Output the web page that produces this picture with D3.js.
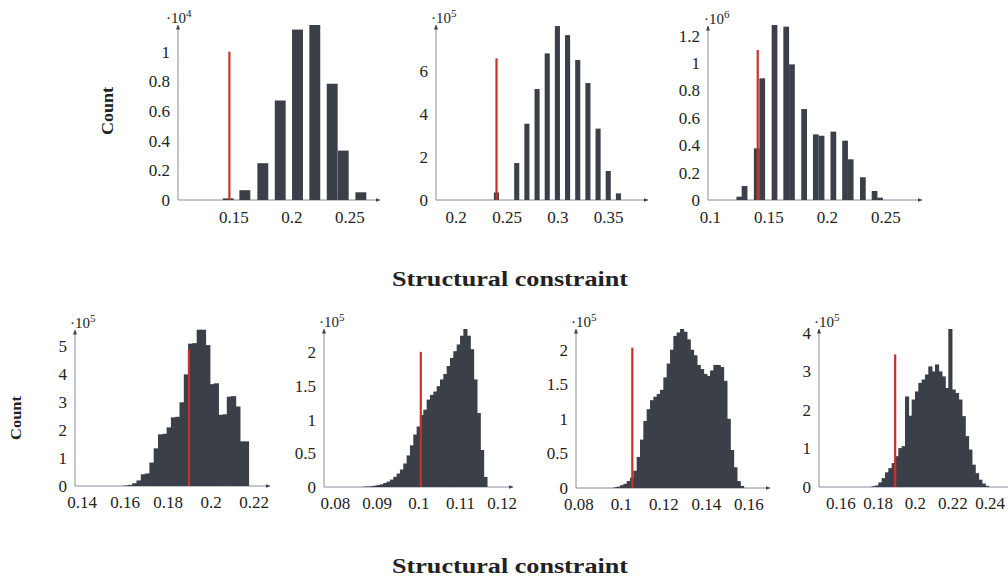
<!DOCTYPE html>
<html>
<head>
<meta charset="utf-8">
<script src="https://cdn.jsdelivr.net/npm/d3@7"></script>
<style>
  html, body { margin: 0; padding: 0; background: #fff; }
  svg text { font-family: "Liberation Serif", "DejaVu Serif", serif; fill: #222; }
</style>
</head>
<body>
<svg id="chart" width="1008" height="577"></svg>
<script>
// ---------- data: top row (counts in units of 10^exp) ----------
const aBinLeft = [0.1409, 0.1552, 0.1707, 0.1857, 0.2006, 0.2155, 0.2305, 0.2400, 0.2552];
const aBinWidth = 0.0094;
const aCounts = [0.011, 0.066, 0.248, 0.671, 1.149, 1.180, 0.784, 0.333, 0.052];
const aRefValue = 0.1466, aRefHeight = 1.0;
const aXTicks = [0.15, 0.2, 0.25];
const aYTicks = [0, 0.2, 0.4, 0.6, 0.8, 1];
const aExp = 4;

const bBinLeft = [0.2375, 0.2575, 0.2675, 0.2775, 0.2875, 0.2975, 0.3075, 0.3175, 0.3275, 0.3375, 0.3475, 0.3575];
const bBinWidth = 0.005;
const bCounts = [0.35, 1.72, 3.55, 5.16, 6.82, 8.09, 7.67, 6.51, 5.44, 3.32, 1.35, 0.31];
const bRefValue = 0.2401, bRefHeight = 6.59;
const bXTicks = [0.2, 0.25, 0.3, 0.35];
const bYTicks = [0, 2, 4, 6];
const bExp = 5;

const cBinLeft = [0.1226, 0.1271, 0.1375, 0.1422, 0.1527, 0.1627, 0.1676, 0.1780, 0.1880, 0.1929, 0.2030, 0.2130, 0.2178, 0.2282, 0.2382, 0.2429];
const cBinWidth = 0.0049;
const cCounts = [0.024, 0.102, 0.377, 0.888, 1.277, 1.265, 0.990, 0.664, 0.479, 0.469, 0.499, 0.433, 0.297, 0.166, 0.066, 0.017];
const cRefValue = 0.1408, cRefHeight = 1.095;
const cXTicks = [0.1, 0.15, 0.2, 0.25];
const cYTicks = [0, 0.2, 0.4, 0.6, 0.8, 1, 1.2];
const cExp = 6;

// ---------- data: bottom row (regular bins) ----------
const dBinStart = 0.1595, dBinWidth = 0.002;
const dCounts = [0.02, 0.04, 0.1, 0.2, 0.42, 0.45, 0.84, 1.35, 1.85, 1.87, 2.1, 2.46, 2.48, 3.0, 4.0,
                 5.1, 5.12, 5.6, 5.6, 5.05, 3.65, 3.68, 2.55, 2.57, 3.2, 3.22, 2.85, 1.6, 1.6];
const dRefValue = 0.1899, dRefHeight = 4.9;
const dXTicks = [0.14, 0.16, 0.18, 0.2, 0.22];
const dYTicks = [0, 1, 2, 3, 4, 5];
const dExp = 5;

const eBinStart = 0.0868, eBinWidth = 0.0008;
const eCounts = [0.005, 0.008, 0.012, 0.02, 0.03, 0.04, 0.06, 0.08, 0.11, 0.15, 0.2, 0.26, 0.35, 0.47, 0.62,
                 0.78, 0.9, 1.07, 1.15, 1.3, 1.37, 1.42, 1.5, 1.6, 1.68, 1.8, 1.92, 2.02, 2.12, 2.25,
                 2.35, 2.25, 2.05, 1.6, 1.1, 0.55, 0.15];
const eRefValue = 0.1006, eRefHeight = 2.01;
const eXTicks = [0.08, 0.09, 0.1, 0.11, 0.12];
const eYTicks = [0, 0.5, 1, 1.5, 2];
const eExp = 5;

const fBinStart = 0.09647, fBinWidth = 0.001569;
const fCounts = [0.01, 0.02, 0.04, 0.06, 0.1, 0.15, 0.25, 0.45, 0.7, 0.97, 1.14, 1.27, 1.32, 1.36, 1.42,
                 1.6, 1.8, 2.0, 2.2, 2.25, 2.3, 2.26, 2.15, 2.0, 1.92, 1.78, 1.72, 1.65, 1.62, 1.7,
                 1.78, 1.78, 1.75, 1.55, 1.0, 0.55, 0.3, 0.1, 0.03];
const fRefValue = 0.1054, fRefHeight = 2.03;
const fXTicks = [0.08, 0.1, 0.12, 0.14, 0.16];
const fYTicks = [0, 0.5, 1, 1.5, 2];
const fExp = 5;

const gBinStart = 0.1768, gBinWidth = 0.001786;
const gCounts = [0.02, 0.04, 0.12, 0.23, 0.38, 0.49, 0.62, 0.8, 1.01, 1.06, 2.35, 1.85, 2.27, 2.48, 2.7,
                 2.79, 2.92, 3.13, 3.0, 3.18, 3.0, 2.87, 2.57, 4.1, 2.53, 2.44, 2.27, 1.84, 1.32, 0.97,
                 0.58, 0.36, 0.19, 0.09, 0.03];
const gRefValue = 0.1894, gRefHeight = 3.44;
const gXTicks = [0.16, 0.18, 0.2, 0.22, 0.24];
const gYTicks = [0, 1, 2, 3, 4];
const gExp = 5;

const xLabel = "Structural constraint";
const yLabel = "Count";

// ---------- assemble panels ----------
const topRow = [
  { bins: aBinLeft.map((x0, i) => ({ x0, x1: x0 + aBinWidth, c: aCounts[i] })), ref: [aRefValue, aRefHeight],
    xTicks: aXTicks, yTicks: aYTicks, exp: aExp, contiguous: false,
    box: { left: 178, right: 380, top: 25, bottom: 200 }, xDomain: [0.1023, 0.2764], yMax: 1.18, expDx: -12 },
  { bins: bBinLeft.map((x0, i) => ({ x0, x1: x0 + bBinWidth, c: bCounts[i] })), ref: [bRefValue, bRefHeight],
    xTicks: bXTicks, yTicks: bYTicks, exp: bExp, contiguous: false,
    box: { left: 436, right: 648, top: 25, bottom: 200 }, xDomain: [0.1806, 0.3891], yMax: 8.14, expDx: -5 },
  { bins: cBinLeft.map((x0, i) => ({ x0, x1: x0 + cBinWidth, c: cCounts[i] })), ref: [cRefValue, cRefHeight],
    xTicks: cXTicks, yTicks: cYTicks, exp: cExp, contiguous: false,
    box: { left: 708, right: 922, top: 26, bottom: 200 }, xDomain: [0.0983, 0.2812], yMax: 1.27, expDx: -4 }
];

function regularBins(start, width, counts) {
  return counts.map((c, i) => ({ x0: start + i * width, x1: start + (i + 1) * width, c }));
}

const bottomRow = [
  { bins: regularBins(dBinStart, dBinWidth, dCounts), ref: [dRefValue, dRefHeight],
    xTicks: dXTicks, yTicks: dYTicks, exp: dExp, contiguous: true,
    box: { left: 75, right: 270, top: 330, bottom: 486 }, xDomain: [0.1369, 0.2276], yMax: 5.59, expDx: -5 },
  { bins: regularBins(eBinStart, eBinWidth, eCounts), ref: [eRefValue, eRefHeight],
    xTicks: eXTicks, yTicks: eYTicks, exp: eExp, contiguous: true,
    box: { left: 324, right: 513, top: 329, bottom: 487 }, xDomain: [0.0774, 0.1227], yMax: 2.35, expDx: -5 },
  { bins: regularBins(fBinStart, fBinWidth, fCounts), ref: [fRefValue, fRefHeight],
    xTicks: fXTicks, yTicks: fYTicks, exp: fExp, contiguous: true,
    box: { left: 576, right: 770, top: 329, bottom: 488 }, xDomain: [0.0789, 0.1702], yMax: 2.30, expDx: -5 },
  { bins: regularBins(gBinStart, gBinWidth, gCounts), ref: [gRefValue, gRefHeight],
    xTicks: gXTicks, yTicks: gYTicks, exp: gExp, contiguous: true,
    box: { left: 819, right: 1012, top: 329, bottom: 487 }, xDomain: [0.1486, 0.2520], yMax: 4.1, expDx: -5 }
];

// ---------- drawing ----------
const svg = d3.select("#chart");
const BAR = "#3b3f48";
const AXIS = "#868b9f";
const REF = "#c8322b";

svg.append("defs").append("marker")
  .attr("id", "arrow")
  .attr("viewBox", "0 0 10 10")
  .attr("refX", 9).attr("refY", 5)
  .attr("markerWidth", 5).attr("markerHeight", 5)
  .attr("markerUnits", "userSpaceOnUse")
  .attr("orient", "auto")
  .append("path")
  .attr("d", "M0,1 L10,5 L0,9 Z")
  .attr("fill", "#3c4050");

const fmt = d3.format("~g");

function drawPanel(p, fontSize, xPad) {
  const { left, right, top, bottom } = p.box;
  const x = d3.scaleLinear().domain(p.xDomain).range([left, right]);
  const y = d3.scaleLinear().domain([0, p.yMax]).range([bottom, top]);
  const g = svg.append("g");

  // axis lines with arrow heads
  g.append("line")
    .attr("x1", left).attr("y1", bottom).attr("x2", right).attr("y2", bottom)
    .attr("stroke", AXIS).attr("stroke-width", 1).attr("marker-end", "url(#arrow)");
  g.append("line")
    .attr("x1", left).attr("y1", bottom).attr("x2", left).attr("y2", top)
    .attr("stroke", AXIS).attr("stroke-width", 1).attr("marker-end", "url(#arrow)");

  // histogram bars (adjacent bins overlap slightly so no seams show)
  const overlap = p.contiguous ? 0.8 : 0;
  g.append("g").selectAll("rect")
    .data(p.bins)
    .join("rect")
    .attr("x", d => x(d.x0))
    .attr("width", d => Math.max(0.5, x(d.x1) - x(d.x0) + overlap))
    .attr("y", d => y(d.c))
    .attr("height", d => Math.max(0, bottom - y(d.c)))
    .attr("fill", BAR);

  // reference value
  g.append("line")
    .attr("x1", x(p.ref[0])).attr("x2", x(p.ref[0]))
    .attr("y1", y(0)).attr("y2", y(p.ref[1]))
    .attr("stroke", REF).attr("stroke-width", 2.2);

  // tick labels
  const xAxis = g.append("g")
    .attr("transform", `translate(0,${bottom})`)
    .call(d3.axisBottom(x).tickValues(p.xTicks).tickFormat(fmt).tickSize(0).tickPadding(xPad));
  const yAxis = g.append("g")
    .attr("transform", `translate(${left},0)`)
    .call(d3.axisLeft(y).tickValues(p.yTicks).tickFormat(fmt).tickSize(0).tickPadding(8));
  [xAxis, yAxis].forEach(a => {
    a.select(".domain").remove();
    a.selectAll("text")
      .style("font-family", '"Liberation Serif", "DejaVu Serif", serif')
      .style("font-size", fontSize + "px")
      .attr("fill", "#222");
  });

  // scale factor label
  const ex = g.append("text")
    .attr("x", left + p.expDx)
    .attr("y", top - 2)
    .style("font-size", "15px");
  ex.append("tspan").text("\u00b710");
  ex.append("tspan").attr("dy", -6).style("font-size", "11px").text(p.exp);
}

topRow.forEach(p => drawPanel(p, 17, 11));
bottomRow.forEach(p => drawPanel(p, 17, 10));

// axis titles
function title(xc, yc, size, len) {
  svg.append("text")
    .attr("x", xc).attr("y", yc)
    .attr("text-anchor", "middle")
    .attr("textLength", len).attr("lengthAdjust", "spacingAndGlyphs")
    .style("font-size", size + "px").style("font-weight", "bold")
    .text(xLabel);
}
title(510, 286, 20, 236);
title(510, 573, 20, 236);

function countLabel(xc, yc, size, len) {
  svg.append("text")
    .attr("transform", `translate(${xc},${yc}) rotate(-90)`)
    .attr("text-anchor", "middle")
    .attr("textLength", len).attr("lengthAdjust", "spacingAndGlyphs")
    .style("font-size", size + "px").style("font-weight", "bold")
    .text(yLabel);
}
countLabel(113, 111, 16, 48);
countLabel(21, 418, 15, 44);
</script>
</body>
</html>
